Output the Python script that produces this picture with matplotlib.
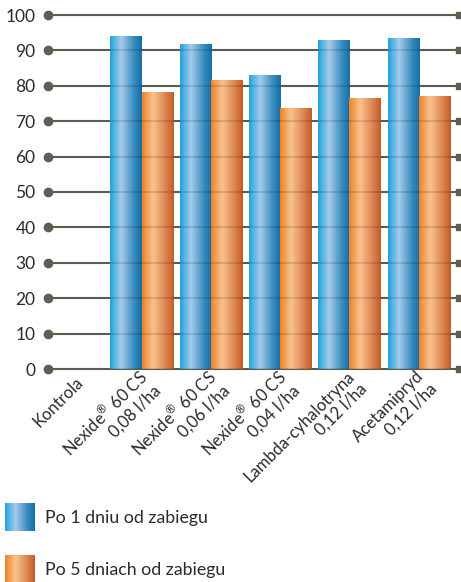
import numpy as np
import matplotlib.pyplot as plt
from matplotlib.colors import LinearSegmentedColormap
from matplotlib.transforms import ScaledTranslation

plt.rcParams['font.family'] = ['Lato', 'DejaVu Sans']
plt.rcParams['mathtext.fontset'] = 'custom'
plt.rcParams['mathtext.rm'] = 'Lato'

categories = ["Kontrola",
              "$\\mathregular{Nexide^{®}}$ 60 CS\n0,08 l/ha",
              "$\\mathregular{Nexide^{®}}$ 60 CS\n0,06 l/ha",
              "$\\mathregular{Nexide^{®}}$ 60 CS\n0,04 l/ha",
              "Lambda-cyhalotryna\n0,12 l/ha",
              "Acetamipryd\n0,12 l/ha"]
series = ["Po 1 dniu od zabiegu", "Po 5 dniach od zabiegu"]
day1 = [0, 93.8, 91.8, 82.8, 92.9, 93.5]
day5 = [0, 78.2, 81.4, 73.7, 76.3, 77.1]
yticks = list(range(0, 101, 10))

blue = LinearSegmentedColormap.from_list(
    "b", [(0, "#1fa3de"), (0.12, "#4fb3e4"), (0.35, "#a6cbea"),
          (0.75, "#3a8cc0"), (1, "#136fa5")])
orange = LinearSegmentedColormap.from_list(
    "o", [(0, "#ee8128"), (0.12, "#f29a4c"), (0.35, "#f8c38f"),
          (0.75, "#dc8450"), (1, "#c45c28")])
grad = np.linspace(0, 1, 64).reshape(1, -1)

W, H = 461, 582
fig = plt.figure(figsize=(W / 100, H / 100), dpi=100)
ax = fig.add_axes([48 / W, 1 - 369 / H, (459 - 48) / W, (369 - 15) / H])

x = np.arange(len(categories))
width = 0.45
b1 = ax.bar(x - width / 2, day1, width, color="none", zorder=2)
b2 = ax.bar(x + width / 2, day5, width, color="none", zorder=2)

for bars, cmap in ((b1, blue), (b2, orange)):
    for p in bars:
        h = p.get_height()
        if h <= 0:
            continue
        x0 = p.get_x()
        ax.imshow(grad, cmap=cmap, extent=[x0, x0 + p.get_width(), 0, h],
                  aspect="auto", zorder=2, interpolation="bilinear")

xl, xr = -0.35, 5.58
ax.set_xlim(xl, xr)
ax.set_ylim(0, 100)

# gridlines with dot at left and square at right
for t in yticks:
    ax.plot([xl, xr], [t, t], color="#68685c", lw=1.5, zorder=1,
            clip_on=False, solid_capstyle="butt")
    ax.plot([xl, xr], [t, t], color="black", alpha=0.12, lw=1.5, zorder=3,
            clip_on=False, solid_capstyle="butt")
    ax.plot([xl], [t], "o", color="#5e5e54", ms=6, zorder=4, clip_on=False)
    ax.plot([xr], [t], "s", color="#5e5e54", ms=4, zorder=4, clip_on=False)

for s in ax.spines.values():
    s.set_visible(False)

ax.set_yticks(yticks)
ax.set_yticklabels([str(t) for t in yticks], fontsize=12.5, color="#2b2b2b")
ax.tick_params(axis="y", length=0, pad=9)

ax.set_xticks(x)
ax.set_xticklabels(categories, fontsize=12, color="#2b2b2b", linespacing=1.15)
ax.tick_params(axis="x", length=0, pad=8)
off = ScaledTranslation(9 / 100, 0, fig.dpi_scale_trans)
for lab in ax.get_xticklabels():
    lab.set_rotation(45)
    lab.set_ha("right")
    lab.set_va("center")
    lab.set_rotation_mode("anchor")
    lab.set_multialignment("right")
    lab.set_transform(lab.get_transform() + off)

# legend
for i, (name, cmap) in enumerate(zip(series, (blue, orange))):
    top = 503 + i * 52
    lax = fig.add_axes([5 / W, 1 - (top + 28) / H, 30 / W, 28 / H])
    lax.imshow(grad, cmap=cmap, aspect="auto", interpolation="bilinear")
    lax.axis("off")
    fig.text(45 / W, 1 - (top + 15) / H, name, fontsize=12.8,
             color="#2b2b2b", va="center", ha="left")

fig.savefig("out.png", dpi=100)
